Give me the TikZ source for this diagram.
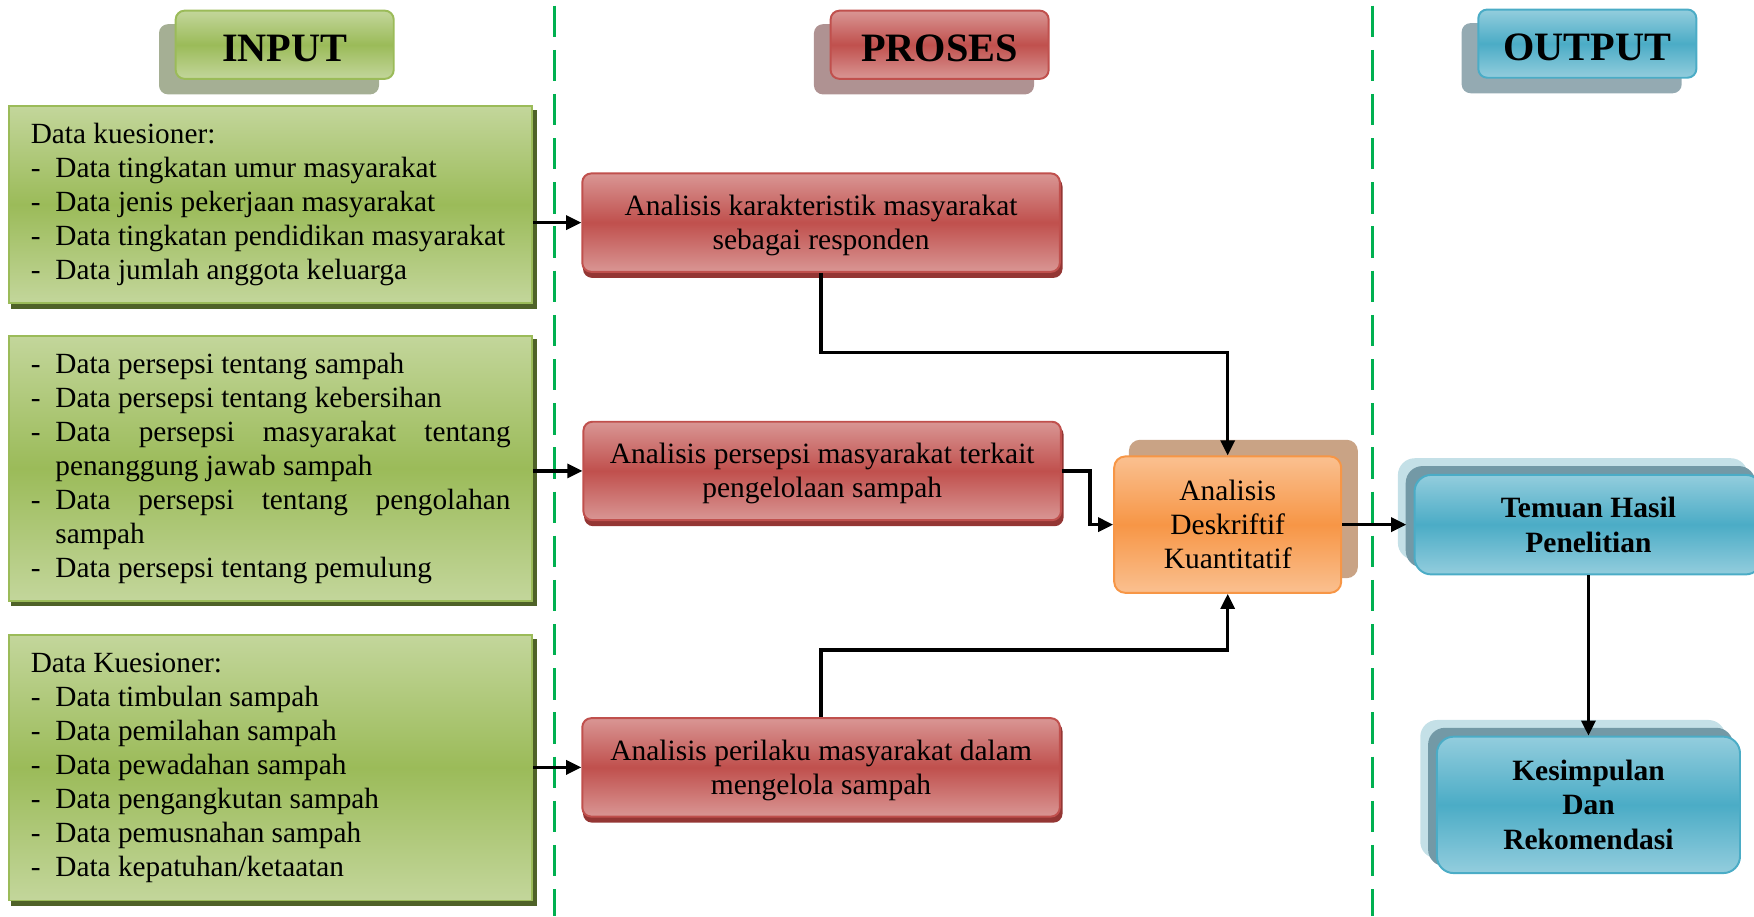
\documentclass[tikz,border=0pt]{standalone}
\usepackage{fontspec}
\setmainfont{Liberation Serif}
\usetikzlibrary{arrows.meta,backgrounds,calc}
\definecolor{gLight}{HTML}{C3D69B}
\definecolor{gMid}{HTML}{9BBB59}
\definecolor{gShadow}{HTML}{4F6228}
\definecolor{gHead}{HTML}{A5AF94}
\definecolor{rLight}{HTML}{D99694}
\definecolor{rMid}{HTML}{C0504D}
\definecolor{rShadow}{HTML}{943634}
\definecolor{rHead}{HTML}{AF9292}
\definecolor{bLight}{HTML}{93CDDD}
\definecolor{bMid}{HTML}{4BACC6}
\definecolor{bDark}{HTML}{7399A6}
\definecolor{bPale}{HTML}{C4E0E7}
\definecolor{bHead}{HTML}{94AAB2}
\definecolor{oLight}{HTML}{FAC090}
\definecolor{oMid}{HTML}{F79646}
\definecolor{oShadow}{HTML}{C9A385}
\definecolor{sepGreen}{HTML}{00B050}
\newcommand{\itm}[1]{\makebox[0.44cm][l]{-}#1}
\newcommand{\cont}[1]{\hspace*{0.44cm}#1}
\newcommand{\dn}{\rule{0pt}{13.1pt}}
\begin{document}
\begin{tikzpicture}[x=0.02cm,y=-0.02cm,
  txt/.style={font=\fontsize{15}{17.3}\selectfont},
  headbox/.style={rectangle, rounded corners=0.16cm, line width=1pt,
    minimum width=3.9cm, minimum height=1.22cm, inner sep=0pt,
    text height=17pt, text depth=0pt,
    font=\fontsize{20.5}{24}\selectfont\bfseries},
  greenfill/.style={draw=gMid, top color=gLight, bottom color=gLight, middle color=gMid},
  redfill/.style={draw=rMid, top color=rLight, bottom color=rLight, middle color=rMid},
  bluefill/.style={draw=bMid, top color=bLight, bottom color=bLight, middle color=bMid},
  orangefill/.style={draw=oMid, top color=oLight, bottom color=oLight, middle color=oMid},
  inbox/.style={greenfill, rectangle, line width=1pt, txt, align=flush left,
    font=\fontsize{14.9}{17.3}\selectfont,
    text width=8.58cm, inner xsep=0.39cm, inner ysep=0pt, minimum width=9.36cm},
  procbox/.style={redfill, rectangle, rounded corners=0.16cm, line width=1pt, txt,
    align=center, minimum width=8.54cm, minimum height=1.76cm, inner sep=0pt},
  outbox/.style={bluefill, rectangle, rounded corners=0.3cm, line width=1pt, txt,
    font=\fontsize{15}{17.6}\selectfont\bfseries, align=center, inner sep=0pt},
  arr/.style={line width=1.7pt, -{Triangle[length=0.27cm,width=0.25cm]}},
  sep/.style={sepGreen, line width=1.5pt, dash pattern=on 0.56cm off 0.23cm}
]
\useasboundingbox (0,0) rectangle (1568,819);
\clip (0,0) rectangle (1568,819);

% separators
\draw[sep] (496,5) -- (496,819);
\draw[sep] (1227,5) -- (1227,819);

% headers
\node[headbox, greenfill] (inH) at (254.5,40) {INPUT};
\node[headbox, redfill] (prH) at (840,40) {PROSES};
\node[headbox, bluefill] (outH) at (1419,39) {OUTPUT};

% input boxes
\node[inbox, minimum height=3.52cm] (in1) at (242,183) {Data kuesioner:\\
\itm{Data tingkatan umur masyarakat}\\
\itm{Data jenis pekerjaan masyarakat}\\
\itm{Data tingkatan pendidikan masyarakat}\\
\itm{Data jumlah anggota keluarga}};

\node[inbox, minimum height=4.74cm] (in2) at (242,418.5) {\itm{Data persepsi tentang sampah}\\
\itm{Data persepsi tentang kebersihan}\\
\itm{Data\hfill persepsi\hfill masyarakat\hfill tentang}\\
\cont{penanggung jawab sampah}\\
\itm{Data\hfill persepsi\hfill tentang\hfill pengolahan}\\
\cont{sampah}\\
\itm{Data persepsi tentang pemulung}};

\node[inbox, minimum height=4.74cm] (in3) at (242,686.5) {Data Kuesioner:\\
\itm{Data timbulan sampah}\\
\itm{Data pemilahan sampah}\\
\itm{Data pewadahan sampah}\\
\itm{Data pengangkutan sampah}\\
\itm{Data pemusnahan sampah}\\
\itm{Data kepatuhan/ketaatan}};

% process boxes
\node[procbox] (p1) at (734,199) {\dn Analisis karakteristik masyarakat\\sebagai responden};
\node[procbox] (p2) at (735,421) {\dn Analisis persepsi masyarakat terkait\\pengelolaan sampah};
\node[procbox] (p3) at (734,686) {\dn Analisis perilaku masyarakat dalam\\mengelola sampah};

% analysis box
\node[orangefill, rectangle, rounded corners=0.2cm, line width=1pt, txt, align=center,
  minimum width=4.06cm, minimum height=2.44cm, inner sep=0pt] (ana) at (1097.5,469)
  {Analisis\\Deskriftif\\Kuantitatif};

% output boxes
\node[outbox, minimum width=6.22cm, minimum height=1.78cm] (tem) at (1420,469) {Temuan Hasil\\Penelitian};
\node[outbox, minimum width=5.42cm, minimum height=2.44cm] (kes) at (1420,719.5) {Kesimpulan\\Dan\\Rekomendasi};

% shadows
\begin{scope}[on background layer]
  \fill[gHead, rounded corners=0.16cm] ([shift={(-14,13)}]inH.south west) rectangle ([shift={(-14,13)}]inH.north east);
  \fill[rHead, rounded corners=0.16cm] ([shift={(-14,13)}]prH.south west) rectangle ([shift={(-14,13)}]prH.north east);
  \fill[bHead, rounded corners=0.16cm] ([shift={(-14,13)}]outH.south west) rectangle ([shift={(-14,13)}]outH.north east);
  \foreach \n in {in1,in2,in3}
    \fill[gShadow] ([shift={(3,4)}]\n.south west) rectangle ([shift={(3,4)}]\n.north east);
  \foreach \n in {p1,p2,p3}
    \fill[rShadow, rounded corners=0.16cm] ([shift={(1.5,4.5)}]\n.south west) rectangle ([shift={(1.5,4.5)}]\n.north east);
  \fill[oShadow, rounded corners=0.2cm] ([shift={(14,-14)}]ana.south west) rectangle ([shift={(14,-14)}]ana.north east);
  \foreach \n in {tem,kes}{
    \fill[bPale, rounded corners=0.3cm] ([shift={(-14,-14)}]\n.south west) rectangle ([shift={(-14,-14)}]\n.north east);
    \fill[bDark, rounded corners=0.3cm] ([shift={(-7,-7)}]\n.south west) rectangle ([shift={(-7,-7)}]\n.north east);
  }
\end{scope}

% connectors
\draw[arr] (in1.east |- p1.west) -- (p1.west);
\draw[arr] (in2.east |- p2.west) -- (p2.west);
\draw[arr] (in3.east |- p3.west) -- (p3.west);
\draw[arr] (p1.south) -- ++(0,71) -| (ana.north);
\draw[arr] (p2.east) -- ++(25,0) |- (ana.west);
\draw[arr] (p3.north) -- ++(0,-60) -| (ana.south);
\draw[arr, shorten >=0.13cm] (ana.east) -- (ana.east -| tem.west);
\draw[arr] (tem.south) -- (kes.north);
\end{tikzpicture}
\end{document}
